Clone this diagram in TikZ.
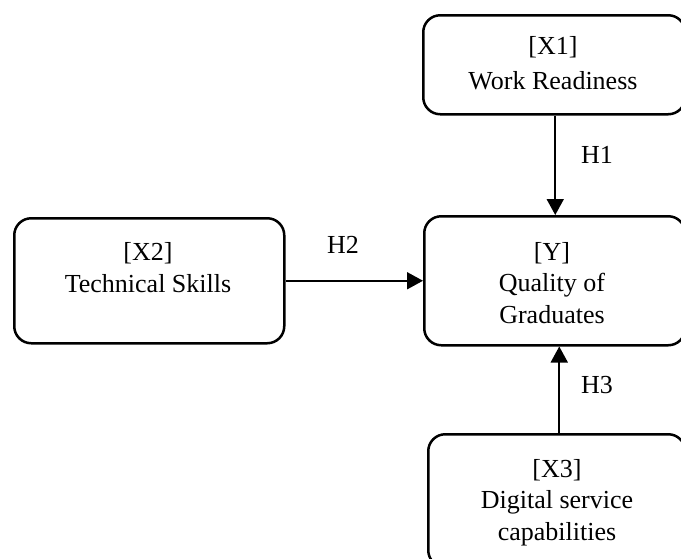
\documentclass[tikz,border=0pt]{standalone}
\usepackage{fontspec}
\setmainfont{Liberation Serif}
\usetikzlibrary{arrows.meta}

\tikzset{
  varbox/.style={draw=black, line width=2.5pt, rounded corners=17pt, inner sep=0pt, anchor=north west},
  boxtext/.style={align=center, inner sep=0pt, font=\fontsize{26}{31.5}\selectfont},
  hyplabel/.style={inner sep=0pt, font=\fontsize{26}{31.5}\selectfont},
  link/.style={line width=1.8pt, -{Triangle[length=16pt,width=17pt]}}
}

\begin{document}
\begin{tikzpicture}[x=1pt, y=-1pt]
  \useasboundingbox (0,0) rectangle (681,558);
  \clip (0,0) rectangle (681,558);

  % variable boxes
  \node[varbox, minimum width=262pt, minimum height=99pt]  (x1) at (422,14)  {};
  \node[varbox, minimum width=261pt, minimum height=129pt] (y)  at (423,215) {};
  \node[varbox, minimum width=270pt, minimum height=125pt] (x2) at (13,217)  {};
  \node[varbox, minimum width=257pt, minimum height=133pt] (x3) at (427,433) {};

  % box captions
  \node[boxtext, font=\fontsize{26}{35}\selectfont] (x1t) at (553,63.5) {[X1]\\Work Readiness};
  \node[boxtext] (yt)  at (552,283) {[Y]\\Quality of\\Graduates};
  \node[boxtext] (x2t) at (148,267.5) {[X2]\\Technical Skills};
  \node[boxtext] (x3t) at (557,502.5) {[X3]\\Digital service\\capabilities};

  % hypothesised paths
  \draw[link] ([xshift=1pt]x1.south) -- ([xshift=1pt]x1.south |- y.north);
  \draw[link] (x2.east) -- (x2.east -| y.west);
  \draw[link] ([xshift=2.5pt]x3.north) -- ([xshift=2.5pt]x3.north |- y.south);

  % path labels
  \node[hyplabel] (h1) at (597,155) {H1};
  \node[hyplabel] (h2) at (343,245) {H2};
  \node[hyplabel] (h3) at (597,385) {H3};
\end{tikzpicture}
\end{document}
